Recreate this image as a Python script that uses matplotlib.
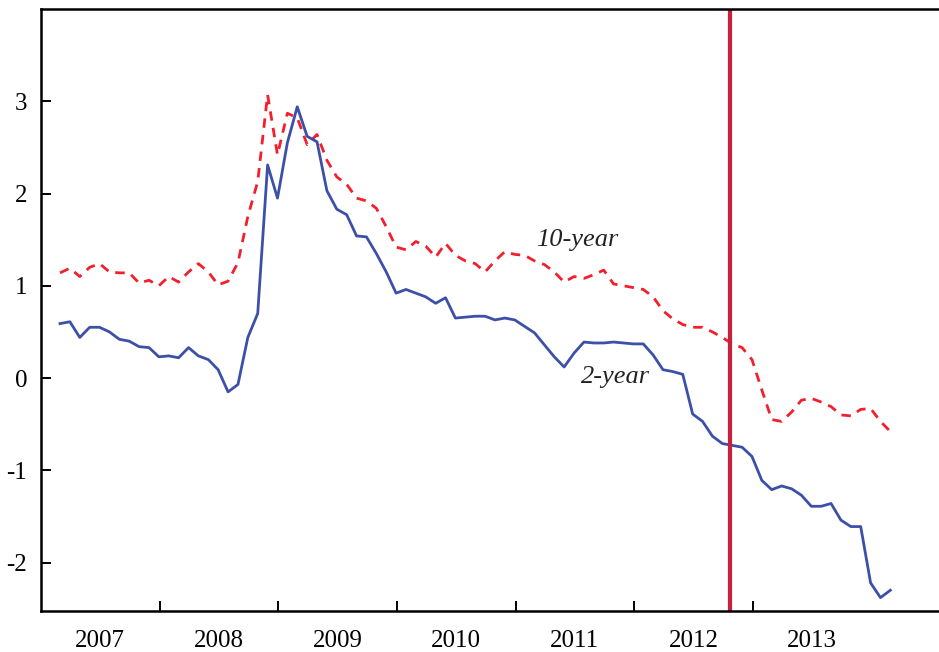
import numpy as np
import matplotlib
matplotlib.use("Agg")
import matplotlib.pyplot as plt

# monthly spreads, Mar 2007 - Mar 2014
start = 2007.16
two_year = [0.59, 0.61, 0.44, 0.55, 0.55, 0.50, 0.42, 0.40, 0.34, 0.33,
            0.23, 0.24, 0.22, 0.33, 0.24, 0.20, 0.09, -0.15, -0.07, 0.44,
            0.70, 2.31, 1.95, 2.55, 2.94, 2.62, 2.56, 2.03, 1.83, 1.77,
            1.54, 1.53, 1.35, 1.15, 0.92, 0.96, 0.92, 0.88, 0.81, 0.87,
            0.65, 0.66, 0.67, 0.67, 0.63, 0.65, 0.63, 0.56, 0.49, 0.36,
            0.23, 0.12, 0.27, 0.39, 0.38, 0.38, 0.39, 0.38, 0.37, 0.37,
            0.25, 0.09, 0.07, 0.04, -0.39, -0.47, -0.63, -0.71, -0.73, -0.75,
            -0.85, -1.11, -1.21, -1.17, -1.20, -1.27, -1.39, -1.39, -1.36, -1.54,
            -1.61, -1.61, -2.22, -2.38, -2.30]
ten_year = [1.14, 1.19, 1.10, 1.20, 1.24, 1.15, 1.14, 1.14, 1.03, 1.06,
            1.00, 1.10, 1.04, 1.15, 1.24, 1.15, 1.01, 1.05, 1.25, 1.75,
            2.13, 3.07, 2.42, 2.87, 2.82, 2.53, 2.64, 2.36, 2.18, 2.10,
            1.95, 1.92, 1.84, 1.64, 1.42, 1.39, 1.48, 1.43, 1.31, 1.46,
            1.33, 1.27, 1.24, 1.15, 1.27, 1.37, 1.34, 1.33, 1.27, 1.23,
            1.15, 1.04, 1.10, 1.08, 1.12, 1.17, 1.02, 1.00, 0.98, 0.96,
            0.88, 0.73, 0.64, 0.58, 0.55, 0.55, 0.50, 0.44, 0.37, 0.33,
            0.20, -0.13, -0.45, -0.47, -0.37, -0.24, -0.22, -0.26, -0.31, -0.40,
            -0.41, -0.34, -0.33, -0.47, -0.58]
event = 2012.806
years = [2007, 2008, 2009, 2010, 2011, 2012, 2013]
yticks = [-2, -1, 0, 1, 2, 3]

plt.rcParams['font.family'] = ['Liberation Serif', 'DejaVu Serif']

t = start + np.arange(len(two_year)) / 12.0

fig = plt.figure(figsize=(9.39, 6.52), dpi=100)
ax = fig.add_axes([0.0437, 0.0636, 0.9563, 0.9226])

ax.plot(t, ten_year, color='#f2202c', lw=2.0, dashes=(3.4, 2.6))
ax.plot(t, two_year, color='#3c50a8', lw=2.0)
ax.axvline(event, color='#c8203c', lw=3.0)

# series labels
ax.text(2011.52, 1.50, '10-year', style='italic', fontsize=19,
        ha='center', va='center', color='#222222')
ax.text(2011.84, 0.01, '2-year', style='italic', fontsize=19,
        ha='center', va='center', color='#222222')

ax.set_xlim(2007.0, 2014.57)
ax.set_ylim(-2.52, 4.0)

# year boundaries get ticks, labels sit mid-year
ax.set_xticks(years[1:])
ax.set_xticklabels([])
ax.set_xticks([y + 0.5 for y in years], minor=True)
ax.set_xticklabels([str(y) for y in years], minor=True)
ax.tick_params(axis='x', which='major', direction='in', length=7, width=1.4)
ax.tick_params(axis='x', which='minor', length=0, pad=14, labelsize=18)

ax.set_yticks(yticks)
ax.set_yticklabels([str(v) for v in yticks])
ax.tick_params(axis='y', direction='in', length=7, width=1.4, pad=10,
               labelsize=18)

for s in ['left', 'bottom', 'top']:
    ax.spines[s].set_linewidth(1.8)
ax.spines['right'].set_visible(False)

fig.savefig('out.png', dpi=100)
